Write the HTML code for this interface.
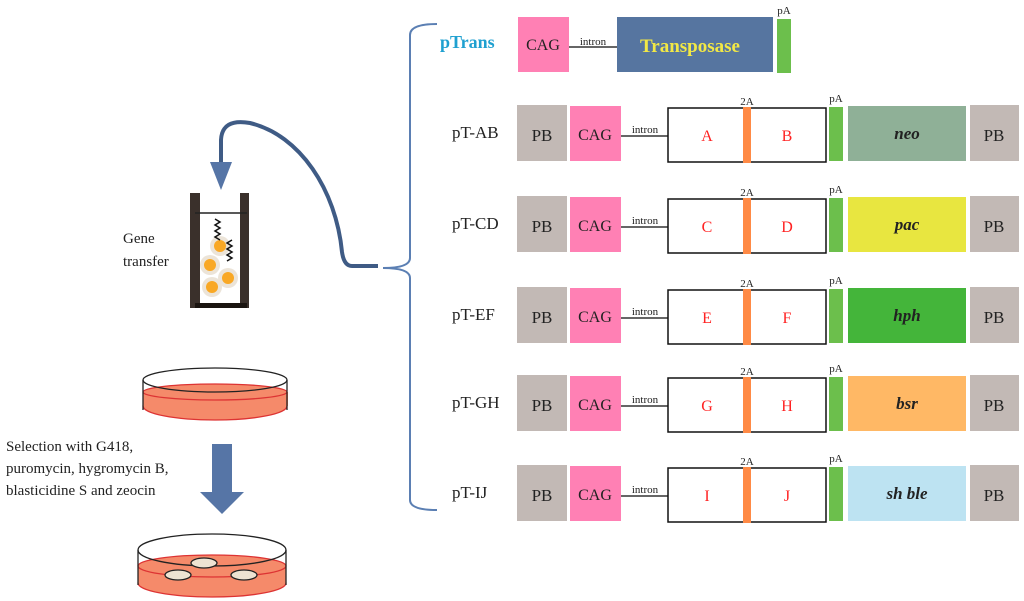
<!DOCTYPE html>
<html><head><style>body{margin:0;background:#fff}svg{display:block}</style></head><body>
<svg width="1024" height="601" viewBox="0 0 1024 601" xmlns="http://www.w3.org/2000/svg" font-family="Liberation Serif, serif">
<!-- connector -->
<path d="M378,266 L352,266 Q344,266 342,252 C336,190 300,135 250,123 Q222,118 221,140 L221,162" fill="none" stroke="#3f5b85" stroke-width="4"/>
<polygon points="210,162 232,162 221,190" fill="#5675a6"/>
<!-- bracket -->
<path d="M437,24 Q410,24 410,35 L410,258 Q410,268 383,268 Q410,268 410,278 L410,500 Q410,510 437,510" fill="none" stroke="#5b7fb3" stroke-width="2"/>
<!-- tube -->
<rect x="190" y="193" width="10" height="115" fill="#3a302b"/>
<rect x="240" y="193" width="9" height="115" fill="#3a302b"/>
<rect x="195" y="303" width="52" height="5" fill="#1a1410"/>
<line x1="195" y1="213" x2="247" y2="213" stroke="#222" stroke-width="1.5"/>
<g fill="#ece4d8"><circle cx="220" cy="246" r="10"/><circle cx="210" cy="265" r="10"/><circle cx="228" cy="278" r="10"/><circle cx="212" cy="287" r="10"/></g>
<g fill="#f9a825"><circle cx="220" cy="246" r="6"/><circle cx="210" cy="265" r="6"/><circle cx="228" cy="278" r="6"/><circle cx="212" cy="287" r="6"/></g>
<path d="M215,219 l5,3 -5,3 5,3 -5,3 5,3 -5,3 5,3" fill="none" stroke="#111" stroke-width="1.5"/>
<path d="M232,240 l-5,3 5,3 -5,3 5,3 -5,3 5,3 -5,3" fill="none" stroke="#111" stroke-width="1.5"/>
<text x="123" y="243" font-size="15" fill="#222">Gene</text>
<text x="123" y="266" font-size="15" fill="#222">transfer</text>
<!-- dish 1 -->
<g stroke="#222" stroke-width="1.3">
<ellipse cx="215" cy="406" rx="72" ry="14" fill="#f58a6a" stroke="#d33"/>
<rect x="143" y="392" width="145" height="14" fill="#f58a6a" stroke="none"/>
<ellipse cx="215" cy="392" rx="72" ry="8" fill="#f58a6a" stroke="#d33"/>
<ellipse cx="215" cy="380" rx="72" ry="12" fill="none"/>
<line x1="143" y1="380" x2="143" y2="410"/><line x1="287" y1="380" x2="287" y2="410"/>
</g>
<text x="6" y="451" font-size="15" fill="#222">Selection with G418,</text>
<text x="6" y="473" font-size="15" fill="#222">puromycin, hygromycin B,</text>
<text x="6" y="495" font-size="15" fill="#222">blasticidine S and zeocin</text>
<rect x="212" y="444" width="20" height="48" fill="#5675a6"/>
<polygon points="200,492 244,492 222,514" fill="#5675a6"/>
<!-- dish 2 -->
<g stroke="#222" stroke-width="1.3">
<ellipse cx="212" cy="583" rx="74" ry="14" fill="#f58a6a" stroke="#d33"/>
<rect x="138" y="566" width="148" height="17" fill="#f58a6a" stroke="none"/>
<ellipse cx="212" cy="566" rx="74" ry="11" fill="#f58a6a" stroke="#d33"/>
<ellipse cx="212" cy="550" rx="74" ry="16" fill="none"/>
<line x1="138" y1="550" x2="138" y2="585"/><line x1="286" y1="550" x2="286" y2="585"/>
<ellipse cx="204" cy="563" rx="13" ry="5" fill="#ede3d2"/>
<ellipse cx="178" cy="575" rx="13" ry="5" fill="#ede3d2"/>
<ellipse cx="244" cy="575" rx="13" ry="5" fill="#ede3d2"/>
</g>
<!-- pTrans -->
<text x="440" y="48" font-size="18" font-weight="bold" fill="#1fa0d0">pTrans</text>
<rect x="518" y="17" width="51" height="55" fill="#ff80b4"/>
<text x="543" y="50" font-size="16" text-anchor="middle" fill="#222">CAG</text>
<line x1="569" y1="47" x2="617" y2="47" stroke="#333" stroke-width="1.5"/>
<text x="593" y="45" font-size="11" text-anchor="middle" fill="#222">intron</text>
<rect x="617" y="17" width="156" height="55" fill="#5675a0"/>
<text x="690" y="52" font-size="19" font-weight="bold" text-anchor="middle" fill="#f2e845">Transposase</text>
<rect x="777" y="19" width="14" height="54" fill="#6cbf4c"/>
<text x="784" y="14" font-size="11" text-anchor="middle" fill="#222">pA</text>
<g font-size="16" fill="#222">
<g transform="translate(0,105)">
<text x="452" y="33" font-size="17">pT-AB</text>
<rect x="517" y="0" width="50" height="56" fill="#c2b9b5"/><text x="542" y="36" font-size="17" text-anchor="middle">PB</text>
<rect x="570" y="1" width="51" height="55" fill="#ff80b4"/><text x="595" y="35" text-anchor="middle">CAG</text>
<line x1="621" y1="31" x2="668" y2="31" stroke="#333" stroke-width="1.5"/><text x="645" y="28" font-size="11" text-anchor="middle">intron</text>
<rect x="668" y="3" width="158" height="54" fill="#fff" stroke="#111" stroke-width="1.5"/>
<rect x="743" y="2" width="8" height="56" fill="#ff8a45"/><text x="747" y="0" font-size="11" text-anchor="middle">2A</text>
<text x="707" y="36" fill="#f22" text-anchor="middle">A</text><text x="787" y="36" fill="#f22" text-anchor="middle">B</text>
<rect x="829" y="2" width="14" height="54" fill="#6cbf4c"/><text x="836" y="-3" font-size="11" text-anchor="middle">pA</text>
<rect x="848" y="1" width="118" height="55" fill="#8fb097"/><text x="907" y="34" font-weight="bold" font-style="italic" text-anchor="middle" font-size="17">neo</text>
<rect x="970" y="0" width="49" height="56" fill="#c2b9b5"/><text x="994" y="36" font-size="17" text-anchor="middle">PB</text>
</g>
<g transform="translate(0,196)">
<text x="452" y="33" font-size="17">pT-CD</text>
<rect x="517" y="0" width="50" height="56" fill="#c2b9b5"/><text x="542" y="36" font-size="17" text-anchor="middle">PB</text>
<rect x="570" y="1" width="51" height="55" fill="#ff80b4"/><text x="595" y="35" text-anchor="middle">CAG</text>
<line x1="621" y1="31" x2="668" y2="31" stroke="#333" stroke-width="1.5"/><text x="645" y="28" font-size="11" text-anchor="middle">intron</text>
<rect x="668" y="3" width="158" height="54" fill="#fff" stroke="#111" stroke-width="1.5"/>
<rect x="743" y="2" width="8" height="56" fill="#ff8a45"/><text x="747" y="0" font-size="11" text-anchor="middle">2A</text>
<text x="707" y="36" fill="#f22" text-anchor="middle">C</text><text x="787" y="36" fill="#f22" text-anchor="middle">D</text>
<rect x="829" y="2" width="14" height="54" fill="#6cbf4c"/><text x="836" y="-3" font-size="11" text-anchor="middle">pA</text>
<rect x="848" y="1" width="118" height="55" fill="#e8e640"/><text x="907" y="34" font-weight="bold" font-style="italic" text-anchor="middle" font-size="17">pac</text>
<rect x="970" y="0" width="49" height="56" fill="#c2b9b5"/><text x="994" y="36" font-size="17" text-anchor="middle">PB</text>
</g>
<g transform="translate(0,287)">
<text x="452" y="33" font-size="17">pT-EF</text>
<rect x="517" y="0" width="50" height="56" fill="#c2b9b5"/><text x="542" y="36" font-size="17" text-anchor="middle">PB</text>
<rect x="570" y="1" width="51" height="55" fill="#ff80b4"/><text x="595" y="35" text-anchor="middle">CAG</text>
<line x1="621" y1="31" x2="668" y2="31" stroke="#333" stroke-width="1.5"/><text x="645" y="28" font-size="11" text-anchor="middle">intron</text>
<rect x="668" y="3" width="158" height="54" fill="#fff" stroke="#111" stroke-width="1.5"/>
<rect x="743" y="2" width="8" height="56" fill="#ff8a45"/><text x="747" y="0" font-size="11" text-anchor="middle">2A</text>
<text x="707" y="36" fill="#f22" text-anchor="middle">E</text><text x="787" y="36" fill="#f22" text-anchor="middle">F</text>
<rect x="829" y="2" width="14" height="54" fill="#6cbf4c"/><text x="836" y="-3" font-size="11" text-anchor="middle">pA</text>
<rect x="848" y="1" width="118" height="55" fill="#44b53a"/><text x="907" y="34" font-weight="bold" font-style="italic" text-anchor="middle" font-size="17">hph</text>
<rect x="970" y="0" width="49" height="56" fill="#c2b9b5"/><text x="994" y="36" font-size="17" text-anchor="middle">PB</text>
</g>
<g transform="translate(0,375)">
<text x="452" y="33" font-size="17">pT-GH</text>
<rect x="517" y="0" width="50" height="56" fill="#c2b9b5"/><text x="542" y="36" font-size="17" text-anchor="middle">PB</text>
<rect x="570" y="1" width="51" height="55" fill="#ff80b4"/><text x="595" y="35" text-anchor="middle">CAG</text>
<line x1="621" y1="31" x2="668" y2="31" stroke="#333" stroke-width="1.5"/><text x="645" y="28" font-size="11" text-anchor="middle">intron</text>
<rect x="668" y="3" width="158" height="54" fill="#fff" stroke="#111" stroke-width="1.5"/>
<rect x="743" y="2" width="8" height="56" fill="#ff8a45"/><text x="747" y="0" font-size="11" text-anchor="middle">2A</text>
<text x="707" y="36" fill="#f22" text-anchor="middle">G</text><text x="787" y="36" fill="#f22" text-anchor="middle">H</text>
<rect x="829" y="2" width="14" height="54" fill="#6cbf4c"/><text x="836" y="-3" font-size="11" text-anchor="middle">pA</text>
<rect x="848" y="1" width="118" height="55" fill="#ffb865"/><text x="907" y="34" font-weight="bold" font-style="italic" text-anchor="middle" font-size="17">bsr</text>
<rect x="970" y="0" width="49" height="56" fill="#c2b9b5"/><text x="994" y="36" font-size="17" text-anchor="middle">PB</text>
</g>
<g transform="translate(0,465)">
<text x="452" y="33" font-size="17">pT-IJ</text>
<rect x="517" y="0" width="50" height="56" fill="#c2b9b5"/><text x="542" y="36" font-size="17" text-anchor="middle">PB</text>
<rect x="570" y="1" width="51" height="55" fill="#ff80b4"/><text x="595" y="35" text-anchor="middle">CAG</text>
<line x1="621" y1="31" x2="668" y2="31" stroke="#333" stroke-width="1.5"/><text x="645" y="28" font-size="11" text-anchor="middle">intron</text>
<rect x="668" y="3" width="158" height="54" fill="#fff" stroke="#111" stroke-width="1.5"/>
<rect x="743" y="2" width="8" height="56" fill="#ff8a45"/><text x="747" y="0" font-size="11" text-anchor="middle">2A</text>
<text x="707" y="36" fill="#f22" text-anchor="middle">I</text><text x="787" y="36" fill="#f22" text-anchor="middle">J</text>
<rect x="829" y="2" width="14" height="54" fill="#6cbf4c"/><text x="836" y="-3" font-size="11" text-anchor="middle">pA</text>
<rect x="848" y="1" width="118" height="55" fill="#bde3f2"/><text x="907" y="34" font-weight="bold" font-style="italic" text-anchor="middle" font-size="17">sh ble</text>
<rect x="970" y="0" width="49" height="56" fill="#c2b9b5"/><text x="994" y="36" font-size="17" text-anchor="middle">PB</text>
</g>
</g>
</svg>
</body></html>
